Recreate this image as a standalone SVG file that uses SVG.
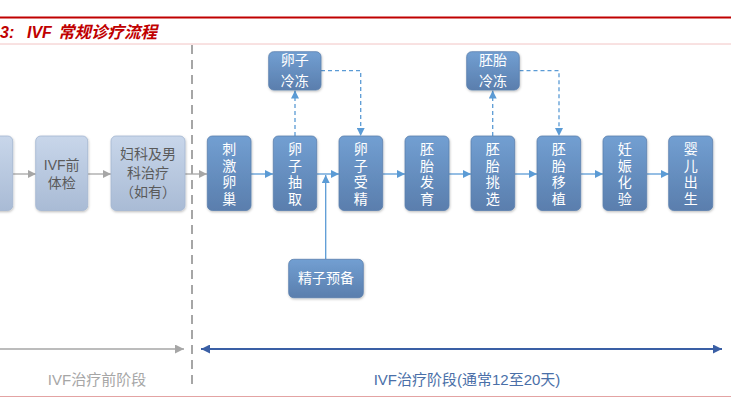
<svg xmlns="http://www.w3.org/2000/svg" width="731" height="400" viewBox="0 0 731 400">
<defs>
<linearGradient id="gBlue" x1="0" y1="0" x2="0" y2="1">
<stop offset="0" stop-color="#729fd2"/>
<stop offset="1" stop-color="#5a7ead"/>
</linearGradient>
<linearGradient id="gGray" x1="0" y1="0" x2="0" y2="1">
<stop offset="0" stop-color="#c8d6ea"/>
<stop offset="1" stop-color="#a9bbd5"/>
</linearGradient>
<filter id="sh" x="-20%" y="-20%" width="140%" height="140%">
<feDropShadow dx="0.6" dy="1.2" stdDeviation="1" flood-color="#000" flood-opacity="0.25"/>
</filter>
<marker id="aGray" viewBox="0 0 10 10" refX="10" refY="5" markerWidth="8" markerHeight="8" markerUnits="userSpaceOnUse" orient="auto">
<path d="M0,0 L10,5 L0,10 z" fill="#a6a6a6"/>
</marker>
<marker id="aBlue" viewBox="0 0 10 10" refX="10" refY="5" markerWidth="8" markerHeight="8" markerUnits="userSpaceOnUse" orient="auto">
<path d="M0,0 L10,5 L0,10 z" fill="#5b9bd5"/>
</marker>
<marker id="aDark" viewBox="0 0 10 10" refX="10" refY="5" markerWidth="10" markerHeight="9" markerUnits="userSpaceOnUse" orient="auto">
<path d="M0,0 L10,5 L0,10 z" fill="#3a5fa5"/>
</marker>
<marker id="aGrayBig" viewBox="0 0 10 10" refX="10" refY="5" markerWidth="10" markerHeight="9" markerUnits="userSpaceOnUse" orient="auto">
<path d="M0,0 L10,5 L0,10 z" fill="#a6a6a6"/>
</marker>
</defs>
<style>
.bn{fill:url(#gBlue);stroke:#5c80ad;stroke-width:0.8;filter:url(#sh)}
.gn{fill:url(#gGray);stroke:#a3b6d1;stroke-width:0.8;filter:url(#sh)}
.wt{font-family:"Noto Sans CJK SC","Liberation Sans",sans-serif;font-size:14px;fill:#ffffff;text-anchor:middle}
.vt{font-family:"Noto Sans CJK SC",sans-serif;font-size:14px;fill:#ffffff;text-anchor:middle;writing-mode:vertical-rl;letter-spacing:2.5px}
.gt{font-family:"Liberation Sans","Noto Sans CJK SC",sans-serif;font-size:14px;fill:#5a5a5a;text-anchor:middle}
.ga{stroke:#a6a6a6;stroke-width:1.3;fill:none;marker-end:url(#aGray)}
.ba{stroke:#5b9bd5;stroke-width:1.3;fill:none;marker-end:url(#aBlue)}
.bd{stroke:#5b9bd5;stroke-width:1.3;fill:none;stroke-dasharray:4 3;marker-end:url(#aBlue)}
.stage{font-family:"Liberation Sans","Noto Sans CJK SC",sans-serif;font-size:15px;text-anchor:middle}
</style>
<rect width="731" height="400" fill="#ffffff"/>
<!-- header -->
<line x1="0" y1="17.5" x2="731" y2="17.5" stroke="#c00000" stroke-width="1.8"/>
<text y="38" font-family="Liberation Sans,'Noto Sans CJK SC',sans-serif" font-size="16" font-weight="bold" font-style="italic" fill="#c00000"><tspan x="0">3:</tspan><tspan x="27">IVF</tspan><tspan x="58" font-size="16.5">常规诊疗流程</tspan></text>
<line x1="0" y1="44" x2="731" y2="44" stroke="#f2c4c4" stroke-width="1"/>
<line x1="0" y1="396.5" x2="731" y2="396.5" stroke="#e3a3a3" stroke-width="1"/>
<!-- stage divider -->
<line x1="192" y1="45" x2="192" y2="390" stroke="#a6a6a6" stroke-width="2" stroke-dasharray="9 6"/>
<!-- connectors -->
<g id="connectors">
<line class="ga" x1="13" y1="174" x2="36" y2="174"/>
<line class="ga" x1="88" y1="174" x2="111" y2="174"/>
<line class="ga" x1="185" y1="174" x2="207" y2="174"/>
<line class="ba" x1="251" y1="174" x2="273" y2="174"/>
<line class="ba" x1="317" y1="174" x2="339" y2="174"/>
<line class="ba" x1="383" y1="174" x2="405" y2="174"/>
<line class="ba" x1="449" y1="174" x2="471" y2="174"/>
<line class="ba" x1="515" y1="174" x2="537" y2="174"/>
<line class="ba" x1="581" y1="174" x2="603" y2="174"/>
<line class="ba" x1="647" y1="174" x2="669" y2="174"/>
<line class="ba" x1="325.7" y1="259" x2="325.7" y2="175"/>
<line class="bd" x1="295" y1="136" x2="295" y2="90.5"/>
<polyline class="bd" points="321,70.7 360.7,70.7 360.7,136"/>
<line class="bd" x1="492.7" y1="136" x2="492.7" y2="90.5"/>
<polyline class="bd" points="519.5,70.7 559,70.7 559,136"/>
<line x1="0" y1="349" x2="184" y2="349" stroke="#a6a6a6" stroke-width="1.5" marker-end="url(#aGrayBig)"/>
<line x1="722" y1="349" x2="201" y2="349" stroke="#3a5fa5" stroke-width="2" marker-end="url(#aDark)"/>
<line x1="202" y1="349" x2="722" y2="349" stroke="#3a5fa5" stroke-width="2" marker-end="url(#aDark)"/>
</g>
<!-- pre-IVF nodes -->
<g id="n-prev"><rect class="gn" x="-20" y="136" width="32.7" height="74.5" rx="5"/></g>
<g id="n-exam"><rect class="gn" x="35.7" y="136" width="52" height="74.5" rx="5"/>
<text class="gt" x="61.7" y="170" font-size="15">IVF前</text>
<text class="gt" x="61.7" y="188" font-size="15">体检</text></g>
<g id="n-treat"><rect class="gn" x="111" y="136" width="74" height="74.5" rx="5"/>
<text class="gt" x="148" y="158.5">妇科及男</text>
<text class="gt" x="148" y="177.5">科治疗</text>
<text class="gt" x="148" y="196.5">（如有）</text></g>
<!-- IVF nodes -->
<g id="n1"><rect class="bn" x="207.3" y="136" width="43.7" height="74.5" rx="5"/>
<text class="vt" x="229.2" y="175">刺激卵巢</text></g>
<g id="n2"><rect class="bn" x="273.3" y="136" width="43.4" height="74.5" rx="5"/>
<text class="vt" x="295" y="175">卵子抽取</text></g>
<g id="n3"><rect class="bn" x="339" y="136" width="43.7" height="74.5" rx="5"/>
<text class="vt" x="360.8" y="175">卵子受精</text></g>
<g id="n4"><rect class="bn" x="405" y="136" width="44" height="74.5" rx="5"/>
<text class="vt" x="427" y="175">胚胎发育</text></g>
<g id="n5"><rect class="bn" x="471" y="136" width="43.7" height="74.5" rx="5"/>
<text class="vt" x="492.8" y="175">胚胎挑选</text></g>
<g id="n6"><rect class="bn" x="537" y="136" width="43.7" height="74.5" rx="5"/>
<text class="vt" x="558.8" y="175">胚胎移植</text></g>
<g id="n7"><rect class="bn" x="603" y="136" width="43.7" height="74.5" rx="5"/>
<text class="vt" x="624.8" y="175">妊娠化验</text></g>
<g id="n8"><rect class="bn" x="668.7" y="136" width="44" height="74.5" rx="5"/>
<text class="vt" x="690.7" y="175">婴儿出生</text></g>
<g id="n-eggfreeze"><rect class="bn" x="268.7" y="51.7" width="52.3" height="38.3" rx="5"/>
<text class="wt" x="294.8" y="65">卵子</text><text class="wt" x="294.8" y="85.5">冷冻</text></g>
<g id="n-embfreeze"><rect class="bn" x="466.7" y="51.7" width="52.6" height="38.3" rx="5"/>
<text class="wt" x="493" y="65">胚胎</text><text class="wt" x="493" y="85.5">冷冻</text></g>
<g id="n-sperm"><rect class="bn" x="288.7" y="259.3" width="74.6" height="38.4" rx="5"/>
<text class="wt" x="326" y="283">精子预备</text></g>
<!-- stage labels -->
<text class="stage" x="97" y="385" fill="#a6a6a6">IVF治疗前阶段</text>
<text class="stage" x="467" y="385" fill="#4a6fa8">IVF治疗阶段(通常12至20天)</text>
</svg>
